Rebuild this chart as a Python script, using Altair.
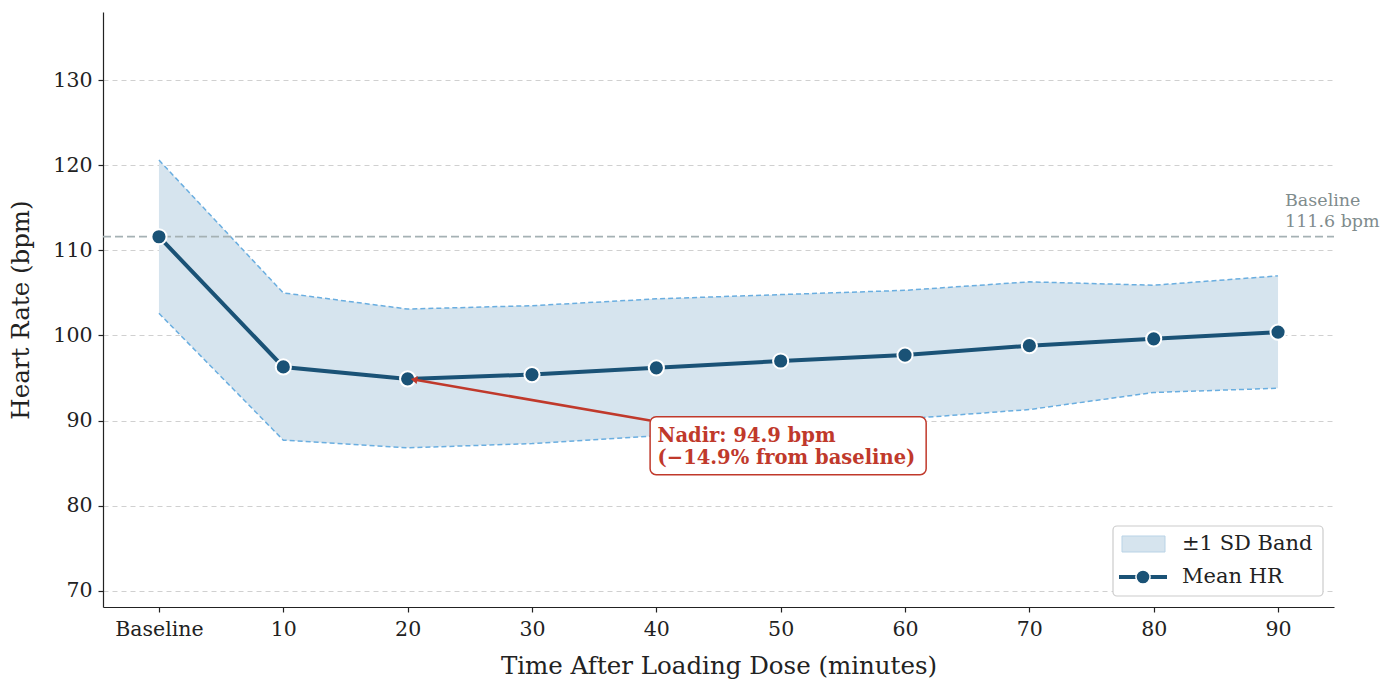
import altair as alt
import pandas as pd

labels = ["Baseline", "10", "20", "30", "40", "50", "60", "70", "80", "90"]
mean_hr = [111.6, 96.3, 94.9, 95.4, 96.2, 97.0, 97.7, 98.8, 99.6, 100.4]
upper = [120.6, 105.0, 103.1, 103.5, 104.3, 104.8, 105.3, 106.3, 105.9, 107.0]
lower = [102.6, 87.7, 86.8, 87.3, 88.2, 89.0, 90.2, 91.3, 93.3, 93.8]
baseline_value = 111.6
nadir_idx = 2
nadir_text = ["Nadir: 94.9 bpm", "(\u221214.9% from baseline)"]
ref_text = ["Baseline", f"{baseline_value} bpm"]
legend_text = ["\u00b11 SD Band", "Mean HR"]

df = pd.DataFrame({"i": list(range(len(labels))), "label": labels,
                   "mean": mean_hr, "upper": upper, "lower": lower})

FONT = "DejaVu Serif"
xs = alt.Scale(domain=[-0.45, 9.45], nice=False, zero=False)
ys = alt.Scale(domain=[68.1, 138], nice=False, zero=False)
label_expr = "[" + ",".join(f"'{l}'" for l in labels) + "][datum.value]"

xaxis = alt.Axis(values=list(range(len(labels))), labelExpr=label_expr,
                 title="Time After Loading Dose (minutes)", grid=False, labelPadding=7, titlePadding=15)
yaxis = alt.Axis(values=[70, 80, 90, 100, 110, 120, 130],
                 title="Heart Rate (bpm)", grid=True, gridDash=[5, 4], gridColor="#d0d0d0",
                 labelPadding=6, titlePadding=19)

base = alt.Chart(df)

band = base.mark_area(color="#d6e4ee", opacity=1).encode(
    x=alt.X("i:Q", scale=xs, axis=xaxis),
    y=alt.Y("lower:Q", scale=ys, axis=yaxis), y2="upper:Q")
up_line = base.mark_line(color="#6aaee0", strokeDash=[5, 3], strokeWidth=1.5).encode(
    x=alt.X("i:Q", scale=xs), y=alt.Y("upper:Q", scale=ys))
lo_line = base.mark_line(color="#6aaee0", strokeDash=[5, 3], strokeWidth=1.5).encode(
    x=alt.X("i:Q", scale=xs), y=alt.Y("lower:Q", scale=ys))

ref = alt.Chart(pd.DataFrame({"y": [baseline_value]})).mark_rule(
    color="#a5b1b4", strokeDash=[8, 4], strokeWidth=1.8).encode(
    y=alt.Y("y:Q", scale=ys), x=alt.value(0), x2=alt.value(1231))

one = pd.DataFrame({"d": [0]})


def ptext(t, x, y, size, color, weight="normal"):
    return alt.Chart(one).mark_text(font=FONT, fontSize=size, color=color, fontWeight=weight,
                                    align="left", baseline="middle", text=t).encode(
        x=alt.value(x), y=alt.value(y))


ref_l1 = ptext(ref_text[0], 1182, 189, 17.5, "#7f8c8d")
ref_l2 = ptext(ref_text[1], 1182, 210, 17.5, "#7f8c8d")

line = base.mark_line(color="#1a5276", strokeWidth=4).encode(
    x=alt.X("i:Q", scale=xs), y=alt.Y("mean:Q", scale=ys))
pts = base.mark_point(filled=True, fill="#1a5276", stroke="white", strokeWidth=2, size=230, opacity=1).encode(
    x=alt.X("i:Q", scale=xs), y=alt.Y("mean:Q", scale=ys))

# annotation
ann = pd.DataFrame({"x1": [3.95], "y1": [90.0], "x2": [nadir_idx + 0.06], "y2": [mean_hr[nadir_idx] - 0.1]})
arrow = alt.Chart(ann).mark_rule(color="#c0392b", strokeWidth=2.5).encode(
    x=alt.X("x1:Q", scale=xs), y=alt.Y("y1:Q", scale=ys), x2="x2:Q", y2="y2:Q")
head = alt.Chart(ann).mark_point(shape="triangle", filled=True, color="#c0392b", size=60, angle=280, opacity=1).encode(
    x=alt.X("x2:Q", scale=xs), y=alt.Y("y2:Q", scale=ys))
box = alt.Chart(pd.DataFrame({"a": [3.95], "b": [6.17], "c": [90.45], "d": [83.65]})).mark_rect(
    fill="white", stroke="#c0392b", strokeWidth=1.5, cornerRadius=6).encode(
    x=alt.X("a:Q", scale=xs), x2="b:Q", y=alt.Y("c:Q", scale=ys), y2="d:Q")
box_text = alt.Chart(pd.DataFrame({"t": nadir_text, "x": [4.01, 4.01], "y": [88.2, 85.6]})).mark_text(
    font=FONT, fontSize=19.5, fontWeight="bold", color="#c0392b", align="left", baseline="middle").encode(
    x=alt.X("x:Q", scale=xs), y=alt.Y("y:Q", scale=ys), text="t:N")

# legend
leg_box = alt.Chart(one).mark_rect(fill="white", stroke="#cccccc", strokeWidth=1.2, cornerRadius=4).encode(
    x=alt.value(1010), x2=alt.value(1220), y=alt.value(514), y2=alt.value(584))
leg_sw = alt.Chart(one).mark_rect(fill="#d6e4ee", stroke="#b9d3e6", strokeWidth=1).encode(
    x=alt.value(1019), x2=alt.value(1062), y=alt.value(524), y2=alt.value(540))
leg_line = alt.Chart(one).mark_rule(color="#1a5276", strokeWidth=4).encode(
    x=alt.value(1016), x2=alt.value(1064), y=alt.value(565))
leg_pt = alt.Chart(one).mark_point(filled=True, fill="#1a5276", stroke="white", strokeWidth=1.5, size=200, opacity=1).encode(
    x=alt.value(1040), y=alt.value(565))
leg_t1 = ptext(legend_text[0], 1079, 532, 21, "#222222")
leg_t2 = ptext(legend_text[1], 1079, 565, 21, "#222222")

chart = alt.layer(band, up_line, lo_line, ref, ref_l1, ref_l2, line, pts, arrow, head, box, box_text,
                  leg_box, leg_sw, leg_line, leg_pt, leg_t1, leg_t2).properties(
    width=1231, height=595,
    autosize=alt.AutoSizeParams(type="none"),
    padding={"left": 103, "top": 12, "right": 63, "bottom": 73},
    background="white",
).configure_view(stroke=None).configure_axis(
    labelFont=FONT, titleFont=FONT, labelFontSize=20.5, titleFontSize=24.5, titleFontWeight="normal",
    labelColor="#222222", titleColor="#222222", domainColor="#222222", domainWidth=1.2,
    tickColor="#222222", tickSize=5, tickWidth=1.2,
)

chart.save("out.html", embed_options={"renderer": "svg", "actions": False})
